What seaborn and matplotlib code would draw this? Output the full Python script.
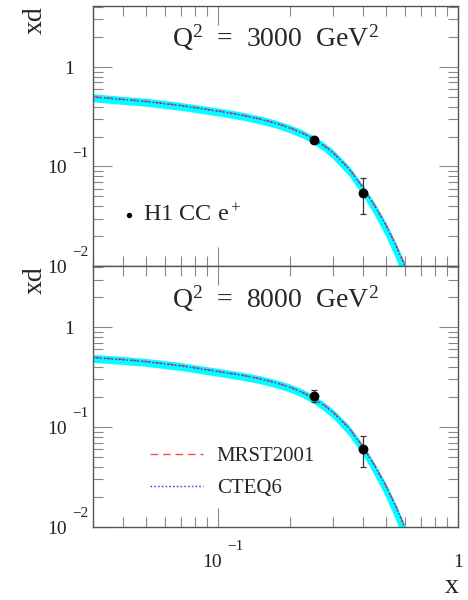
import numpy as np
import matplotlib
matplotlib.use("Agg")
import matplotlib.pyplot as plt
import seaborn as sns
from matplotlib.ticker import NullFormatter, LogLocator

# -----------------------------
# Data
# -----------------------------

x_theory = [0.03, 0.04, 0.05, 0.07, 0.1, 0.125, 0.15, 0.175, 0.2, 0.225,
            0.25, 0.275, 0.3, 0.35, 0.4, 0.45, 0.5, 0.55, 0.6, 0.65]

# Q2 = 3000 GeV2
mrst_3000 = [0.503, 0.474, 0.453, 0.411, 0.362, 0.330, 0.300, 0.272, 0.244, 0.217,
             0.190, 0.164, 0.140, 0.096, 0.0625, 0.0404, 0.026, 0.0164, 0.0102, 0.0061]
cteq_3000 = [0.499, 0.470, 0.449, 0.408, 0.359, 0.328, 0.298, 0.270, 0.242, 0.215,
             0.188, 0.162, 0.138, 0.095, 0.0617, 0.0398, 0.0256, 0.0161, 0.0100, 0.0060]
band_lo_3000 = [0.446, 0.421, 0.403, 0.366, 0.322, 0.294, 0.267, 0.242, 0.217, 0.193,
                0.169, 0.143, 0.120, 0.081, 0.0513, 0.0319, 0.0198, 0.0118, 0.0067, 0.0038]
band_hi_3000 = [0.538, 0.507, 0.485, 0.440, 0.387, 0.353, 0.321, 0.291, 0.261, 0.232,
                0.203, 0.175, 0.149, 0.102, 0.066, 0.0426, 0.0274, 0.0172, 0.0107, 0.0064]

# Q2 = 8000 GeV2
mrst_8000 = [0.500, 0.476, 0.455, 0.413, 0.362, 0.332, 0.305, 0.278, 0.251, 0.223,
             0.195, 0.168, 0.143, 0.099, 0.0645, 0.041, 0.026, 0.0162, 0.0100, 0.0059]
cteq_8000 = [0.496, 0.472, 0.451, 0.410, 0.359, 0.330, 0.303, 0.276, 0.249, 0.221,
             0.193, 0.166, 0.141, 0.098, 0.0637, 0.0404, 0.0256, 0.0159, 0.0098, 0.0058]
band_lo_8000 = [0.445, 0.424, 0.405, 0.368, 0.322, 0.295, 0.271, 0.247, 0.223, 0.198,
                0.172, 0.146, 0.123, 0.083, 0.0529, 0.0324, 0.0198, 0.0117, 0.0066, 0.0037]
band_hi_8000 = [0.535, 0.509, 0.487, 0.442, 0.387, 0.355, 0.326, 0.297, 0.269, 0.239,
                0.209, 0.179, 0.152, 0.105, 0.068, 0.0432, 0.0274, 0.0170, 0.0105, 0.0062]

# H1 CC e+ data
x_data = [0.25, 0.40]
h1_3000 = [0.183, 0.0545]
h1_3000_lo = [0.173, 0.033]
h1_3000_hi = [0.194, 0.076]
h1_8000 = [0.205, 0.060]
h1_8000_lo = [0.180, 0.040]
h1_8000_hi = [0.233, 0.081]

titles = ["Q$^2$  =  3000  GeV$^2$", "Q$^2$  =  8000  GeV$^2$"]
y_decades = [1, 0.1, 0.01]
x_decades = [0.1, 1]

# -----------------------------
# Style
# -----------------------------

sns.set_style("ticks")
plt.rcParams['font.family'] = ['Liberation Serif', 'DejaVu Serif']
plt.rcParams['mathtext.fontset'] = 'custom'
plt.rcParams['mathtext.rm'] = 'Liberation Serif'
plt.rcParams['mathtext.it'] = 'Liberation Serif:italic'
plt.rcParams['mathtext.bf'] = 'Liberation Serif:bold'

frame_col = '#555555'
tick_col = '#888888'
band_col = '#00ffff'
mrst_col = '#ff4a4a'
cteq_col = '#3a3aff'
label_col = '#222222'


def exponent_text(v):
    return "\u2212%d" % abs(int(round(np.log10(v))))


fig = plt.figure(figsize=(4.68, 6), dpi=100)
ax_top = fig.add_axes([0.198, 0.5567, 0.781, 0.4333])
ax_bot = fig.add_axes([0.198, 0.1217, 0.781, 0.435])

panels = [
    (ax_top, mrst_3000, cteq_3000, band_lo_3000, band_hi_3000, h1_3000, h1_3000_lo, h1_3000_hi),
    (ax_bot, mrst_8000, cteq_8000, band_lo_8000, band_hi_8000, h1_8000, h1_8000_lo, h1_8000_hi),
]

for i, (ax, mrst, cteq, lo, hi, h1, h1lo, h1hi) in enumerate(panels):
    ax.set_xscale('log')
    ax.set_yscale('log')

    # PDF uncertainty band + central curves
    ax.fill_between(x_theory, lo, hi, color=band_col, lw=0, zorder=1)
    sns.lineplot(x=x_theory, y=mrst, ax=ax, color=mrst_col, lw=1.0,
                 linestyle=(0, (5.5, 3.5)), label='MRST2001', zorder=3)
    sns.lineplot(x=x_theory, y=cteq, ax=ax, color=cteq_col, lw=1.0,
                 linestyle=(0, (1.2, 1.5)), label='CTEQ6', zorder=4)

    # H1 points
    yerr = [np.array(h1) - np.array(h1lo), np.array(h1hi) - np.array(h1)]
    ax.errorbar(x_data, h1, yerr=yerr, fmt='none', ecolor='#333333',
                elinewidth=0.9, capsize=2.5, capthick=0.9, zorder=5)
    sns.scatterplot(x=x_data, y=h1, ax=ax, color='black', s=50,
                    edgecolor='black', linewidth=0, zorder=6, label='H1 CC e$^+$')

    ax.set_xlim(0.03, 1)
    ax.set_ylim(0.01, 4.1)

    ax.set_title(titles[i], y=0.842, pad=0, fontsize=20)

    # ticks (ROOT-like, inward on all four sides)
    ax.xaxis.set_major_locator(LogLocator(base=10))
    ax.xaxis.set_minor_locator(LogLocator(base=10, subs=np.arange(2, 10)))
    ax.yaxis.set_minor_locator(LogLocator(base=10, subs=np.arange(2, 10)))
    for axis in (ax.xaxis, ax.yaxis):
        axis.set_major_formatter(NullFormatter())
        axis.set_minor_formatter(NullFormatter())
    ax.tick_params(which='both', direction='in', top=True, right=True,
                   color=tick_col, width=0.8)
    ax.tick_params(which='major', length=14)
    ax.tick_params(which='minor', length=7)

    for sp in ax.spines.values():
        sp.set_color(frame_col)
        sp.set_linewidth(1.0)

    # y tick labels written ROOT style: "10" with raised exponent
    for v in y_decades:
        if v == 1:
            ax.annotate("1", xy=(0, v), xycoords=('axes fraction', 'data'),
                        xytext=(-18.7, -2.5), textcoords='offset pixels',
                        ha='right', va='center', fontsize=14, color=label_col)
        else:
            ax.annotate("10", xy=(0, v), xycoords=('axes fraction', 'data'),
                        xytext=(-25.7, -2.3), textcoords='offset pixels',
                        ha='right', va='center', fontsize=14, color=label_col)
            ax.annotate(exponent_text(v), xy=(0, v), xycoords=('axes fraction', 'data'),
                        xytext=(-20, 9.7), textcoords='offset pixels',
                        ha='left', va='baseline', fontsize=11, color=label_col)

    ax.set_ylabel('xd', fontsize=20, loc='top')
    ax.yaxis.set_label_coords(-0.122, 1.0)

    handles, labels = ax.get_legend_handles_labels()
    if ax.get_legend():
        ax.get_legend().remove()

    if i == 0:
        ax.legend([handles[2]], [labels[2]], loc='center left',
                  bbox_to_anchor=(0.077, 0.196), frameon=False,
                  fontsize=17.5, handlelength=0.65, handletextpad=0.25,
                  borderpad=0, borderaxespad=0, markerscale=0.55)
    else:
        ax.legend(handles[:2], labels[:2], loc='center left',
                  bbox_to_anchor=(0.157, 0.209), frameon=False,
                  fontsize=15, handlelength=2.55, handletextpad=0.65,
                  labelspacing=0.6, borderpad=0, borderaxespad=0)
        for v in x_decades:
            if v == 1:
                ax.annotate("1", xy=(v, 0), xycoords=('data', 'axes fraction'),
                            xytext=(0, -40), textcoords='offset pixels',
                            ha='center', va='baseline', fontsize=14, color=label_col)
            else:
                ax.annotate("10", xy=(v, 0), xycoords=('data', 'axes fraction'),
                            xytext=(-6.3, -40), textcoords='offset pixels',
                            ha='center', va='baseline', fontsize=14, color=label_col)
                ax.annotate(exponent_text(v), xy=(v, 0), xycoords=('data', 'axes fraction'),
                            xytext=(9.5, -23), textcoords='offset pixels',
                            ha='left', va='baseline', fontsize=11, color=label_col)
        ax.set_xlabel('x', fontsize=20, loc='right')
        ax.xaxis.set_label_coords(1.0, -0.18)

fig.savefig('out.png', dpi=100)
